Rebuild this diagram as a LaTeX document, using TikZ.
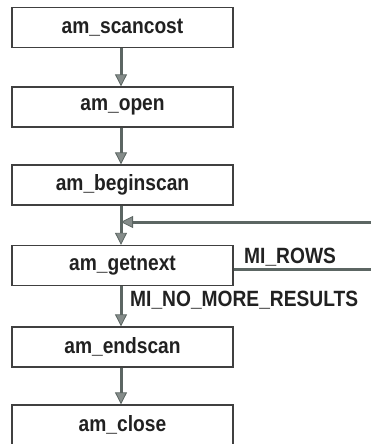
\documentclass[tikz,border=0pt]{standalone}
\usepackage{fontspec}
\setmainfont{Liberation Sans}
\usetikzlibrary{arrows.meta}
\definecolor{arrowgray}{rgb}{0.36,0.40,0.39}
\definecolor{boxline}{rgb}{0.25,0.25,0.25}
\definecolor{txt}{rgb}{0.13,0.13,0.13}
\newcommand\tallbf[1]{\scalebox{1}[1.15]{\bfseries #1}}
\begin{document}
\begin{tikzpicture}[x=1pt,y=-1pt,
  fbox/.style={draw=boxline,line width=1.3pt,fill=white,minimum width=221pt,minimum height=40pt,inner sep=0pt,text=txt,font=\fontsize{19.2}{22}\selectfont},
  flow/.style={draw=arrowgray,line width=3pt,-{Triangle[length=12pt,width=12pt,fill=arrowgray!75,line width=0.8pt]}},
  plain/.style={draw=arrowgray,line width=3pt},
  lbl/.style={text=txt,font=\fontsize{19.2}{22}\selectfont,inner sep=0pt,anchor=base west}]
\useasboundingbox (0,0) rectangle (371,444);
\clip (0,0) rectangle (371,444);
\node[fbox] (b1) at (122.5,27.5) {\tallbf{am\_scancost}};
\node[fbox] (b2) at (122.5,107) {\tallbf{am\_open}};
\node[fbox] (b3) at (122.5,185) {\tallbf{am\_beginscan}};
\node[fbox] (b4) at (122.5,265.5) {\tallbf{am\_getnext}};
\node[fbox] (b5) at (122.5,347) {\tallbf{am\_endscan}};
\node[fbox] (b6) at (122.5,425) {\tallbf{am\_close}};
\coordinate (fbR) at (371,222);
\coordinate (fbL) at (121,222);
\coordinate (rowsR) at (371,269);
\draw[flow] (b1.south -| 121,0) -- (b2.north -| 121,0);
\draw[flow] (b2.south -| 121,0) -- (b3.north -| 121,0);
\draw[flow] (b3.south -| 121,0) -- (b4.north -| 121,0);
\draw[flow] (fbR) -- (fbL);
\draw[plain] (b4.east |- rowsR) -- (rowsR);
\draw[flow] (b4.south -| 121,0) -- (b5.north -| 121,0);
\draw[flow] (b5.south -| 121,0) -- (b6.north -| 121,0);
\node[lbl] (rows) at (244,263) {\tallbf{MI\_ROWS}};
\node[lbl] (nomore) at (130,306) {\tallbf{MI\_NO\_MORE\_RESULTS}};
\end{tikzpicture}
\end{document}
